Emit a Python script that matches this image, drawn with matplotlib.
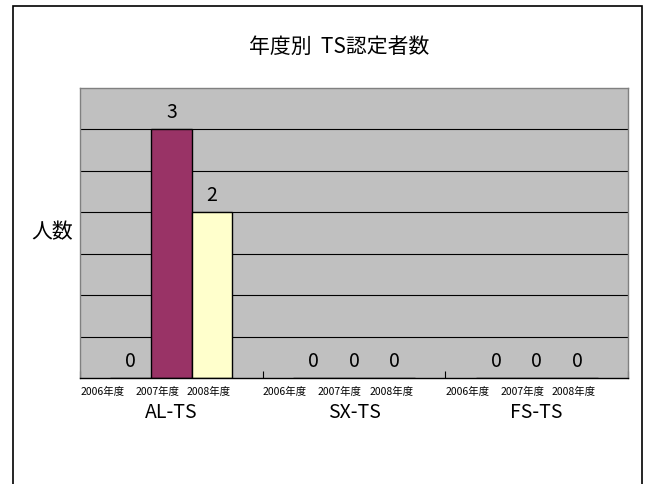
import numpy as np
import matplotlib.pyplot as plt
from matplotlib.patches import Rectangle

plt.rcParams['font.family'] = ['Noto Sans CJK JP', 'DejaVu Sans']

# data
groups = ["AL-TS", "SX-TS", "FS-TS"]
years = ["2006年度", "2007年度", "2008年度"]
counts = {
    "2006年度": [0, 0, 0],
    "2007年度": [3, 0, 0],
    "2008年度": [2, 0, 0],
}
colors = ["#C0C0C0", "#993366", "#FFFFCC"]

# layout
group_w = 4.5
bar_w = 1.0
first = 1.25
label_shift = [-0.7, -0.35, -0.08]

fig = plt.figure(figsize=(6.46, 4.85), dpi=100)
ax = fig.add_axes([80 / 646, 106 / 485, 548 / 646, 290 / 485])
ax.set_facecolor("#C0C0C0")

# gridlines
for y in np.arange(0.5, 3.5, 0.5):
    ax.axhline(y, color="black", lw=0.8, zorder=1)

g = np.arange(len(groups))
for i, yr in enumerate(years):
    xs = g * group_w + first + i * bar_w
    vals = counts[yr]
    ax.bar(xs, vals, width=bar_w, color=colors[i], edgecolor="black",
           linewidth=1.0, zorder=2)
    for x, v in zip(xs, vals):
        ax.text(x, v + 0.09, str(v), ha="center", va="bottom",
                fontsize=14, zorder=3)
        ax.text(x + label_shift[i], -0.09, yr, ha="center", va="top",
                fontsize=7.5, clip_on=False)

for j, name in enumerate(groups):
    ax.text(j * group_w + group_w / 2, -0.28, name, ha="center", va="top",
            fontsize=14, clip_on=False)

ax.set_xlim(0, group_w * len(groups))
ax.set_ylim(0, 3.5)
ax.set_xticks(np.arange(len(groups) + 1) * group_w)
ax.set_xticklabels([])
ax.set_yticks([])
ax.tick_params(axis="x", direction="in", length=5, width=0.8, color="black")
for s in ["top", "left", "right"]:
    ax.spines[s].set_color("#808080")
    ax.spines[s].set_linewidth(1.0)
ax.spines["bottom"].set_color("black")
ax.spines["bottom"].set_linewidth(1.0)

fig.text(339 / 646, 1 - 47 / 485, "年度別  TS認定者数", ha="center",
         va="center", fontsize=15)
fig.text(52 / 646, 1 - 232 / 485, "人数", ha="center", va="center",
         fontsize=15)

# outer frame
fig.patches.append(Rectangle((12.5 / 646, -0.02), 629.5 / 646, 1 - 6.5 / 485 + 0.02,
                             transform=fig.transFigure, fill=False,
                             edgecolor="black", lw=1.2))

fig.savefig("out.png", dpi=100)
